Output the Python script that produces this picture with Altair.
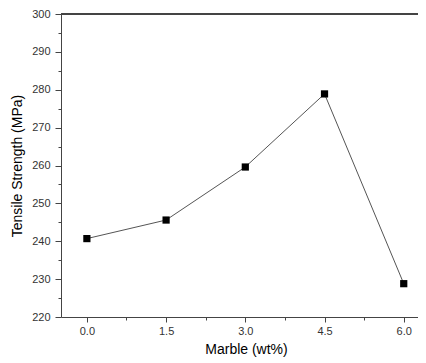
import altair as alt
import pandas as pd

marble = [0.0, 1.5, 3.0, 4.5, 6.0]
strength = [240.7, 245.6, 259.6, 278.9, 228.8]
x_major = [0.0, 1.5, 3.0, 4.5, 6.0]
x_minor = [0.75, 2.25, 3.75, 5.25]
y_major = [220, 230, 240, 250, 260, 270, 280, 290, 300]
y_minor = [225, 235, 245, 255, 265, 275, 285, 295]

df = pd.DataFrame({"marble": marble, "strength": strength})

W = 357
H = 303
FONT = "Liberation Sans"
AX = "#444444"

xscale = alt.Scale(domain=[-0.49, 6.27], nice=False, zero=False)
yscale = alt.Scale(domain=[220, 300], nice=False, zero=False)

xaxis = alt.Axis(
    values=x_major,
    orient="bottom",
    title="Marble (wt%)",
    tickSize=5,
    format=".1f",
    labelOverlap=False,
    grid=False,
    domainColor=AX,
    tickColor=AX,
    labelColor="#333",
    labelFont=FONT,
    labelFontSize=11,
    labelPadding=3,
    titleFont=FONT,
    titleFontSize=14,
    titleFontWeight="normal",
    titleColor="#000",
    titleX=185,
    titleY=32,
    titleBaseline="middle",
)
yaxis = alt.Axis(
    values=y_major,
    orient="left",
    title="Tensile Strength (MPa)",
    tickSize=6,
    format="d",
    labelOverlap=False,
    grid=False,
    domainColor=AX,
    tickColor=AX,
    labelColor="#333",
    labelFont=FONT,
    labelFontSize=11,
    labelPadding=5,
    titleFont=FONT,
    titleFontSize=14,
    titleFontWeight="normal",
    titleColor="#000",
    titlePadding=7,
)
xaxis_minor = alt.Axis(
    values=x_minor, orient="bottom", title=None, labels=False, domain=False,
    grid=False, tickSize=3, tickColor=AX,
)
yaxis_minor = alt.Axis(
    values=y_minor, orient="left", title=None, labels=False, domain=False,
    grid=False, tickSize=3, tickColor=AX,
)

base = alt.Chart(df)
line = base.mark_line(color="#555555", strokeWidth=1).encode(
    x=alt.X("marble:Q", scale=xscale, axis=xaxis),
    y=alt.Y("strength:Q", scale=yscale, axis=yaxis),
)
pts = base.mark_point(shape="square", filled=True, size=52, color="#000000", opacity=1).encode(
    x=alt.X("marble:Q", scale=xscale, axis=xaxis_minor),
    y=alt.Y("strength:Q", scale=yscale, axis=yaxis_minor),
)
top = alt.Chart(df).mark_rule(color=AX, strokeWidth=1.3).encode(
    x=alt.value(0), x2=alt.value(W), y=alt.value(0)
)

chart = alt.layer(line, pts, top).resolve_axis(
    x="independent", y="independent"
).properties(
    width=W,
    height=H,
    autosize=alt.AutoSizeParams(type="none"),
    padding={"left": 53, "top": 6, "right": 0, "bottom": 44},
).configure_view(strokeWidth=0)

chart.save("out.html", embed_options={"renderer": "svg", "actions": False})
